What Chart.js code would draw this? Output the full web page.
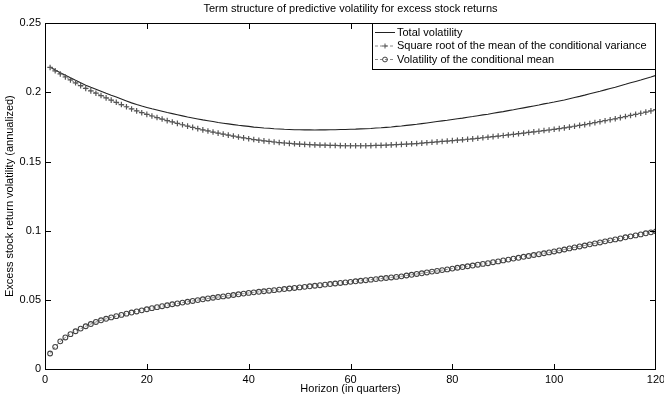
<!DOCTYPE html>
<html>
<head>
<meta charset="utf-8">
<script src="https://cdn.jsdelivr.net/npm/chart.js@4.4.1/dist/chart.umd.min.js"></script>
<style>
  html, body { margin: 0; padding: 0; background: #fff; }
  canvas { display: block; }
</style>
</head>
<body>
<canvas id="c" width="664" height="398"></canvas>
<script>
// ---- data ----
const horizons = Array.from({ length: 120 }, (_, i) => i + 1);

const seriesLabels = [
  'Total volatility',
  'Square root of the mean of the conditional variance',
  'Volatility of the conditional mean'
];

const totalVol = [
  .2183, .2162, .2142, .2123, .2105, .2087, .2070, .2052, .2037, .2023,
  .2008, .1993, .1979, .1966, .1952, .1938, .1924, .1912, .1901, .1891,
  .1881, .1872, .1863, .1854, .1846, .1838, .1830, .1822, .1815, .1808,
  .1801, .1795, .1789, .1782, .1777, .1772, .1767, .1762, .1758, .1754,
  .1749, .1746, .1742, .1740, .1737, .1735, .1733, .1732, .1730, .1730,
  .1729, .1729, .1728, .1729, .1729, .1730, .1730, .1731, .1731, .1733,
  .1734, .1736, .1737, .1739, .1742, .1744, .1747, .1750, .1754, .1757,
  .1761, .1765, .1769, .1774, .1779, .1784, .1789, .1794, .1798, .1804,
  .1809, .1814, .1820, .1825, .1831, .1837, .1842, .1849, .1855, .1861,
  .1868, .1874, .1881, .1888, .1895, .1902, .1909, .1917, .1923, .1930,
  .1938, .1945, .1954, .1963, .1971, .1980, .1990, .1999, .2008, .2018,
  .2028, .2037, .2048, .2058, .2069, .2079, .2089, .2100, .2111, .2123
];

const sqrtMeanCondVar = [
  .2180, .2156, .2133, .2111, .2090, .2069, .2049, .2029, .2011, .1994,
  .1977, .1960, .1944, .1928, .1912, .1896, .1880, .1866, .1853, .1841,
  .1829, .1818, .1807, .1796, .1786, .1776, .1766, .1756, .1747, .1738,
  .1729, .1721, .1713, .1705, .1698, .1691, .1684, .1677, .1671, .1665,
  .1659, .1654, .1649, .1645, .1641, .1637, .1634, .1631, .1628, .1626,
  .1624, .1622, .1620, .1619, .1618, .1617, .1616, .1615, .1614, .1614,
  .1614, .1614, .1614, .1615, .1616, .1617, .1618, .1620, .1622, .1624,
  .1626, .1628, .1630, .1633, .1636, .1639, .1642, .1645, .1648, .1651,
  .1654, .1657, .1661, .1664, .1668, .1672, .1676, .1680, .1684, .1688,
  .1692, .1696, .1701, .1705, .1710, .1714, .1719, .1724, .1728, .1733,
  .1738, .1743, .1749, .1755, .1761, .1767, .1774, .1781, .1788, .1795,
  .1802, .1809, .1817, .1825, .1833, .1841, .1849, .1857, .1866, .1875
];

const condMeanVol = [
  .0112, .0160, .0200, .0228, .0252, .0273, .0292, .0309, .0325, .0340,
  .0352, .0363, .0373, .0382, .0391, .0400, .0408, .0416, .0424, .0432,
  .0440, .0447, .0454, .0461, .0468, .0474, .0480, .0486, .0492, .0498,
  .0504, .0510, .0515, .0520, .0525, .0530, .0535, .0540, .0545, .0550,
  .0554, .0558, .0562, .0566, .0570, .0574, .0578, .0582, .0586, .0590,
  .0594, .0598, .0602, .0606, .0610, .0614, .0618, .0622, .0626, .0630,
  .0634, .0638, .0642, .0646, .0650, .0654, .0658, .0662, .0666, .0670,
  .0676, .0681, .0687, .0692, .0698, .0704, .0709, .0715, .0720, .0726,
  .0732, .0737, .0743, .0748, .0754, .0760, .0765, .0772, .0778, .0785,
  .0791, .0798, .0804, .0811, .0817, .0824, .0830, .0837, .0843, .0850,
  .0857, .0864, .0872, .0879, .0886, .0893, .0901, .0908, .0915, .0923,
  .0930, .0937, .0944, .0952, .0959, .0966, .0973, .0981, .0988, .0995
];

const xTicks = [0, 20, 40, 60, 80, 100, 120];
const xTickLabels = ['0', '20', '40', '60', '80', '100', '120'];
const yTicks = [0, 0.05, 0.1, 0.15, 0.2, 0.25];
const yTickLabels = ['0', '0.05', '0.1', '0.15', '0.2', '0.25'];

const chartTitle = 'Term structure of predictive volatility for excess stock returns';
const xTitle = 'Horizon (in quarters)';
const yTitle = 'Excess stock return volatility (annualized)';

// ---- chart ----
const FONT = '"Liberation Sans", Arial, Helvetica, sans-serif';
Chart.defaults.font.family = FONT;
Chart.defaults.color = '#000';

const toXY = arr => horizons.map((h, i) => ({ x: h, y: arr[i] }));

const frameLegend = {
  id: 'frameLegend',
  afterDraw(chart) {
    const ctx = chart.ctx;
    const a = chart.chartArea;
    const xs = chart.scales.x, ys = chart.scales.y;
    const L = 5;
    const l = Math.round(a.left), r = Math.round(a.right) - 1;
    const t = Math.round(a.top), b = Math.round(a.bottom);

    ctx.save();
    ctx.fillStyle = '#000';
    // frame as filled 1px bars
    ctx.fillRect(l, t, r - l + 1, 1);
    ctx.fillRect(l, b, r - l + 1, 1);
    ctx.fillRect(l, t, 1, b - t + 1);
    ctx.fillRect(r, t, 1, b - t + 1);
    // inward ticks on all four sides
    for (const v of xTicks) {
      const px = Math.min(r, Math.round(xs.getPixelForValue(v)));
      ctx.fillRect(px, b - L, 1, L);
      ctx.fillRect(px, t + 1, 1, L);
    }
    for (const v of yTicks) {
      const py = Math.min(b, Math.round(ys.getPixelForValue(v)));
      ctx.fillRect(l + 1, py, L, 1);
      ctx.fillRect(r - L, py, L, 1);
    }

    // legend box
    const lb = { left: 372, top: t, right: r, bottom: 69 };
    ctx.fillStyle = '#fff';
    ctx.fillRect(lb.left, lb.top + 1, lb.right - lb.left, lb.bottom - lb.top - 1);
    ctx.fillStyle = '#000';
    ctx.fillRect(lb.left, lb.top, lb.right - lb.left + 1, 1);
    ctx.fillRect(lb.left, lb.bottom, lb.right - lb.left + 1, 1);
    ctx.fillRect(lb.left, lb.top, 1, lb.bottom - lb.top + 1);
    ctx.fillRect(lb.right, lb.top, 1, lb.bottom - lb.top + 1);

    ctx.font = '11px ' + FONT;
    ctx.textBaseline = 'middle';
    const rows = [32.5, 46, 59.5];
    const x0 = 375, x1 = 395, xm = 385, tx = 397;
    chart.data.datasets.forEach((ds, i) => {
      const y = rows[i];
      ctx.save();
      ctx.strokeStyle = ds.borderColor;
      ctx.lineWidth = 1;
      ctx.setLineDash(ds.borderDash || []);
      ctx.beginPath();
      ctx.moveTo(x0, y); ctx.lineTo(x1, y);
      ctx.stroke();
      ctx.setLineDash([]);
      if (ds.pointStyle === 'cross') {
        ctx.strokeStyle = ds.pointBorderColor;
        ctx.beginPath();
        ctx.moveTo(xm - 2.5, y); ctx.lineTo(xm + 2.5, y);
        ctx.moveTo(xm, y - 2.5); ctx.lineTo(xm, y + 2.5);
        ctx.stroke();
      } else if (ds.pointStyle === 'circle' && ds.pointRadius > 0) {
        ctx.strokeStyle = ds.pointBorderColor;
        ctx.beginPath();
        ctx.arc(xm, y, ds.pointRadius, 0, Math.PI * 2);
        ctx.stroke();
      }
      ctx.restore();
      ctx.fillStyle = '#000';
      ctx.fillText(ds.label, tx, y);
    });
    ctx.restore();
  }
};

new Chart(document.getElementById('c'), {
  type: 'line',
  data: {
    datasets: [
      {
        label: seriesLabels[0],
        data: toXY(totalVol),
        borderColor: '#222222',
        borderWidth: 1.1,
        pointRadius: 0,
        tension: 0,
        order: 3
      },
      {
        label: seriesLabels[1],
        data: toXY(sqrtMeanCondVar),
        borderColor: '#8a8a8a',
        borderWidth: 1,
        borderDash: [3, 2],
        pointStyle: 'cross',
        pointRadius: 2.8,
        pointBorderColor: '#555555',
        pointBorderWidth: 1.2,
        tension: 0,
        order: 2
      },
      {
        label: seriesLabels[2],
        data: toXY(condMeanVol),
        borderColor: '#8a8a8a',
        borderWidth: 1,
        borderDash: [3, 2],
        pointStyle: 'circle',
        pointRadius: 2.4,
        pointBackgroundColor: 'rgba(255,255,255,0)',
        pointBorderColor: '#444444',
        pointBorderWidth: 1.1,
        tension: 0,
        order: 1
      }
    ]
  },
  options: {
    responsive: false,
    animation: false,
    events: [],
    layout: { padding: { left: 0, right: 8, top: 0, bottom: 0 } },
    plugins: {
      legend: { display: false },
      tooltip: { enabled: false },
      title: {
        display: true,
        text: chartTitle,
        fullSize: false,
        font: { size: 11, weight: 'normal' },
        color: '#000',
        padding: { top: 2, bottom: 8 }
      }
    },
    scales: {
      x: {
        type: 'linear',
        min: 0, max: 120,
        grid: { display: false, drawTicks: false, tickLength: 0 },
        border: { display: false },
        afterBuildTicks: s => { s.ticks = xTicks.map(v => ({ value: v })); },
        ticks: {
          font: { size: 11 },
          color: '#000',
          padding: 4,
          maxRotation: 0,
          autoSkip: false,
          callback: v => xTickLabels[xTicks.indexOf(v)]
        },
        title: {
          display: true,
          text: xTitle,
          font: { size: 11 },
          color: '#000',
          padding: { top: 0, bottom: 2 }
        },
        afterFit: s => { s.height = 29; s.paddingLeft = 0; s.paddingRight = 0; }
      },
      y: {
        type: 'linear',
        min: 0, max: 0.25,
        grid: { display: false, drawTicks: false, tickLength: 0 },
        border: { display: false },
        afterBuildTicks: s => { s.ticks = yTicks.map(v => ({ value: v })); },
        ticks: {
          font: { size: 11 },
          color: '#000',
          padding: 4,
          autoSkip: false,
          callback: v => yTickLabels[yTicks.findIndex(t => Math.abs(t - v) < 1e-9)]
        },
        title: {
          display: true,
          text: yTitle,
          font: { size: 11 },
          color: '#000',
          padding: { top: 3, bottom: 0 }
        },
        afterFit: s => { s.width = 45; s.paddingTop = 0; s.paddingBottom = 0; }
      }
    }
  },
  plugins: [frameLegend]
});
</script>
</body>
</html>
